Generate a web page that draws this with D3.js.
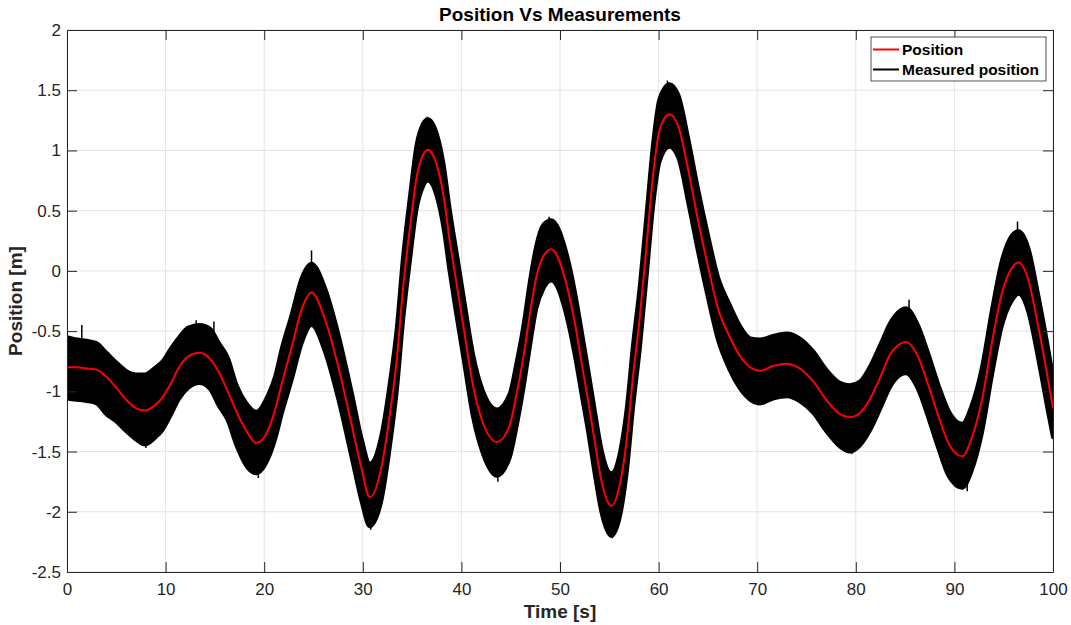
<!DOCTYPE html>
<html>
<head>
<meta charset="utf-8">
<script src="https://cdn.jsdelivr.net/npm/d3@7"></script>
<style>
  body { margin: 0; background: #fff; }
  text { font-family: "Liberation Sans", Arial, Helvetica, sans-serif; }
</style>
</head>
<body>
<div id="chart"></div>
<script>
// ---- data ----
const timeTicks = [0, 10, 20, 30, 40, 50, 60, 70, 80, 90, 100];
const posTicks = [-2.5, -2, -1.5, -1, -0.5, 0, 0.5, 1, 1.5, 2];

// red "Position" curve (time [s], position [m])
const posT = [0, 1, 2, 3, 4, 5, 6, 7, 7.9, 9, 9.6, 10.5, 11.3, 12.3, 13.45, 14.5, 15.4, 16.3, 17.2, 18.2,
  19.2, 20.4, 21.1, 21.8, 22.8, 23.8, 24.8, 26.2, 27.5, 28.9, 29.9, 30.7, 31.9, 32.76, 33.44, 34.1, 34.8,
  35.47, 36.1, 36.6, 37.5, 38.2, 38.8, 39.5, 40.2, 41.2, 42.2, 43.6, 44.9, 45.6, 46.3, 46.96, 47.6, 48.3,
  49.1, 50.8, 51.5, 52.2, 52.9, 53.55, 54.2, 55.2, 56.1, 56.8, 57.4, 58.1, 58.8, 59.5, 60.1, 61.1, 62,
  63, 64, 65, 66.05, 67.2, 68.2, 69.3, 70.3, 71.6, 73, 74.3, 75.7, 77, 78.4, 79.4, 80.4, 81.4, 82.5, 83.5,
  84, 85.1, 86.3, 87.4, 88.4, 89.4, 90.8, 91.7, 92.8, 93.8, 94.8, 95.8, 96.5, 97.5, 98.5, 99.5, 100];
const posV = [-0.80, -0.80, -0.81, -0.82, -0.88, -0.97, -1.07, -1.14, -1.16, -1.11, -1.06, -0.94, -0.81, -0.71,
  -0.68, -0.73, -0.84, -1.00, -1.17, -1.33, -1.43, -1.32, -1.155, -0.93, -0.63, -0.32, -0.18, -0.41, -0.79,
  -1.29, -1.65, -1.88, -1.625, -1.18, -0.74, -0.13, 0.37, 0.78, 0.96, 1.005, 0.88, 0.62, 0.26, -0.10, -0.46,
  -0.96, -1.265, -1.42, -1.28, -1.02, -0.71, -0.35, -0.05, 0.12, 0.18, -0.16, -0.43, -0.77, -1.10, -1.43,
  -1.74, -1.95, -1.76, -1.38, -0.88, -0.38, 0.23, 0.84, 1.17, 1.30, 1.20, 0.84, 0.42, 0.04, -0.32, -0.545,
  -0.70, -0.80, -0.83, -0.79, -0.77, -0.81, -0.92, -1.07, -1.19, -1.215, -1.18, -1.07, -0.88, -0.69, -0.64,
  -0.59, -0.71, -0.96, -1.21, -1.43, -1.54, -1.40, -1.07, -0.60, -0.19, 0.02, 0.07, -0.075, -0.46, -0.905, -1.14];

// black "Measured position" noise band: upper / lower edge at the same times
const measHi = [-0.55, -0.57, -0.58, -0.60, -0.68, -0.76, -0.83, -0.86, -0.86, -0.80, -0.76, -0.65, -0.56, -0.47,
  -0.45, -0.48, -0.60, -0.72, -0.95, -1.10, -1.17, -1.03, -0.88, -0.64, -0.36, -0.06, 0.06, -0.15, -0.52,
  -1.02, -1.40, -1.60, -1.36, -0.92, -0.48, 0.13, 0.63, 1.05, 1.22, 1.26, 1.14, 0.88, 0.52, 0.16, -0.20,
  -0.70, -1.00, -1.15, -1.02, -0.76, -0.45, -0.08, 0.21, 0.38, 0.42, 0.10, -0.17, -0.50, -0.84, -1.17,
  -1.48, -1.68, -1.50, -1.12, -0.62, -0.12, 0.49, 1.10, 1.43, 1.55, 1.46, 1.10, 0.68, 0.30, -0.06, -0.28,
  -0.45, -0.56, -0.57, -0.54, -0.52, -0.56, -0.67, -0.82, -0.93, -0.95, -0.92, -0.80, -0.61, -0.43, -0.37,
  -0.31, -0.45, -0.70, -0.95, -1.16, -1.27, -1.13, -0.80, -0.33, 0.08, 0.29, 0.33, 0.19, -0.20, -0.64, -0.88];
const measLo = [-1.06, -1.07, -1.08, -1.10, -1.19, -1.25, -1.33, -1.40, -1.44, -1.38, -1.33, -1.20, -1.07, -0.97,
  -0.93, -0.98, -1.12, -1.24, -1.45, -1.62, -1.68, -1.56, -1.40, -1.18, -0.90, -0.60, -0.45, -0.68, -1.06,
  -1.56, -1.92, -2.12, -1.90, -1.45, -1.00, -0.40, 0.10, 0.52, 0.70, 0.75, 0.62, 0.35, 0.00, -0.37, -0.72,
  -1.22, -1.52, -1.70, -1.55, -1.29, -0.97, -0.62, -0.31, -0.15, -0.08, -0.42, -0.70, -1.03, -1.36, -1.70,
  -2.00, -2.20, -2.03, -1.65, -1.14, -0.64, -0.03, 0.58, 0.91, 1.03, 0.94, 0.57, 0.16, -0.22, -0.58, -0.82,
  -0.97, -1.07, -1.10, -1.06, -1.04, -1.08, -1.18, -1.33, -1.46, -1.50, -1.45, -1.33, -1.14, -0.96, -0.90,
  -0.85, -0.98, -1.23, -1.48, -1.70, -1.80, -1.67, -1.34, -0.87, -0.46, -0.25, -0.19, -0.34, -0.73, -1.17, -1.38];

// the tallest single noise spikes that stick out of the band
const spikeT = [1.5, 8.0, 13.1, 14.9, 19.4, 24.8, 30.8, 36.5, 43.7, 48.9, 55.3, 60.9, 79.6, 85.4, 91.3, 96.4];
const spikeTip = [-0.45, -1.47, -0.41, -0.42, -1.72, 0.17, -2.15, 1.28, -1.75, 0.45, -2.22, 1.58, -1.52, -0.24, -1.83, 0.41];
const spikeBase = [-0.80, -1.16, -0.69, -0.78, -1.43, -0.18, -1.88, 1.00, -1.42, 0.18, -1.95, 1.29, -1.21, -0.59, -1.52, 0.07];

const seriesNames = ["Position", "Measured position"];
const seriesColors = ["#ff0000", "#000000"];

// ---- layout ----
const W = 1071, H = 625;
const plotL = 67, plotR = 1053, plotT = 30, plotB = 572;
const axisColor = "#262626";
const gridColor = "#e3e3e3";

const svg = d3.select("#chart").append("svg")
  .attr("width", W).attr("height", H)
  .style("background", "#fff");

const x = d3.scaleLinear().domain([0, 100]).range([plotL, plotR]);
const y = d3.scaleLinear().domain([-2.5, 2]).range([plotB, plotT]);

// grid
const grid = svg.append("g");
grid.selectAll(".gx").data(timeTicks).join("line")
  .attr("x1", d => x(d)).attr("x2", d => x(d))
  .attr("y1", plotT).attr("y2", plotB)
  .attr("stroke", gridColor).attr("stroke-width", 1);
grid.selectAll(".gy").data(posTicks).join("line")
  .attr("x1", plotL).attr("x2", plotR)
  .attr("y1", d => y(d)).attr("y2", d => y(d))
  .attr("stroke", gridColor).attr("stroke-width", 1);

svg.append("clipPath").attr("id", "plotclip")
  .append("rect").attr("x", plotL).attr("y", plotT)
  .attr("width", plotR - plotL).attr("height", plotB - plotT);

const plot = svg.append("g").attr("clip-path", "url(#plotclip)");
const idx = d3.range(posT.length);

// measured band (thick outline stands in for the dense noisy trace)
const band = d3.area()
  .x(i => x(posT[i]))
  .y0(i => y(measLo[i]))
  .y1(i => y(measHi[i]))
  .curve(d3.curveMonotoneX);
plot.append("path")
  .attr("d", band(idx))
  .attr("fill", seriesColors[1])
  .attr("stroke", seriesColors[1])
  .attr("stroke-width", 4)
  .attr("stroke-linejoin", "round");

plot.selectAll(".spike").data(d3.range(spikeT.length)).join("line")
  .attr("x1", i => x(spikeT[i])).attr("x2", i => x(spikeT[i]))
  .attr("y1", i => y(spikeBase[i])).attr("y2", i => y(spikeTip[i]))
  .attr("stroke", seriesColors[1]).attr("stroke-width", 1.5);

// true position
const line = d3.line()
  .x(i => x(posT[i]))
  .y(i => y(posV[i]))
  .curve(d3.curveMonotoneX);
plot.append("path")
  .attr("d", line(idx))
  .attr("fill", "none")
  .attr("stroke", seriesColors[0])
  .attr("stroke-width", 2);

// axes (MATLAB style: ticks inside, box on)
function styleAxis(g) {
  g.select(".domain").attr("stroke", axisColor).attr("stroke-width", 1);
  g.selectAll(".tick line").attr("stroke", axisColor).attr("stroke-width", 1);
  g.selectAll(".tick text")
    .attr("fill", axisColor)
    .style("font-size", "17px");
}

svg.append("g")
  .attr("transform", `translate(0,${plotB})`)
  .call(d3.axisBottom(x).tickValues(timeTicks).tickSizeInner(-10).tickSizeOuter(0).tickPadding(11))
  .call(styleAxis);
svg.append("g")
  .attr("transform", `translate(0,${plotT})`)
  .call(d3.axisTop(x).tickValues(timeTicks).tickSizeInner(-10).tickSizeOuter(0).tickFormat(""))
  .call(styleAxis);
svg.append("g")
  .attr("transform", `translate(${plotL},0)`)
  .call(d3.axisLeft(y).tickValues(posTicks).tickSizeInner(-10).tickSizeOuter(0).tickPadding(6)
    .tickFormat(d => String(d)))
  .call(styleAxis);
svg.append("g")
  .attr("transform", `translate(${plotR},0)`)
  .call(d3.axisRight(y).tickValues(posTicks).tickSizeInner(-10).tickSizeOuter(0).tickFormat(""))
  .call(styleAxis);

// title and axis labels
svg.append("text")
  .attr("x", (plotL + plotR) / 2).attr("y", 21)
  .attr("text-anchor", "middle")
  .style("font-size", "19px").style("font-weight", "bold")
  .attr("fill", "#000")
  .text("Position Vs Measurements");

svg.append("text")
  .attr("x", (plotL + plotR) / 2).attr("y", 618)
  .attr("text-anchor", "middle")
  .style("font-size", "19px").style("font-weight", "bold")
  .attr("fill", axisColor)
  .text("Time [s]");

svg.append("text")
  .attr("transform", `translate(22,${(plotT + plotB) / 2}) rotate(-90)`)
  .attr("text-anchor", "middle")
  .style("font-size", "19px").style("font-weight", "bold")
  .attr("fill", axisColor)
  .text("Position [m]");

// legend
const legend = svg.append("g").attr("transform", "translate(871,37)");
legend.append("rect")
  .attr("width", 175).attr("height", 44)
  .attr("fill", "#fff")
  .attr("stroke", axisColor).attr("stroke-width", 0.8);
seriesNames.forEach((name, i) => {
  const row = legend.append("g").attr("transform", `translate(0,${12.5 + i * 20})`);
  row.append("line")
    .attr("x1", 2).attr("x2", 28)
    .attr("stroke", seriesColors[i]).attr("stroke-width", 2);
  row.append("text")
    .attr("x", 31).attr("y", 5.5)
    .style("font-size", "15.5px").style("font-weight", "bold")
    .attr("fill", "#000")
    .text(name);
});
</script>
</body>
</html>
